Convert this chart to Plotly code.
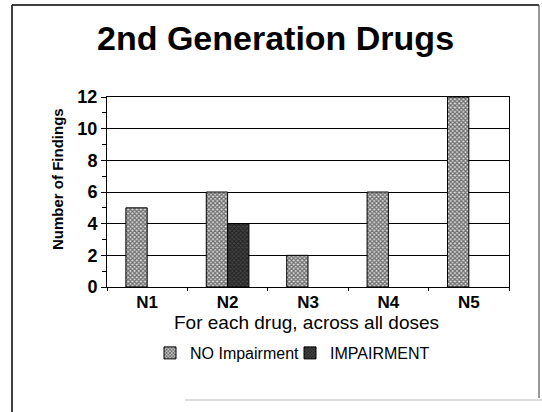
import plotly.graph_objects as go

categories = ["N1", "N2", "N3", "N4", "N5"]
no_impairment = [5, 6, 2, 6, 12]
impairment = [0, 4, 0, 0, 0]
y_ticks = [0, 2, 4, 6, 8, 10, 12]

W, H = 542, 412
L, R, T, B = 107, 33, 97, 125
pw, ph = W - L - R, H - T - B

def px(x):
    return (x - L) / pw

def py(y):
    return (H - B - y) / ph

FONT = "Liberation Sans, Arial, sans-serif"

fig = go.Figure()
fig.add_trace(go.Bar(
    x=categories, y=no_impairment, name="NO Impairment",
    marker=dict(color="white", line=dict(color="black", width=1),
                pattern=dict(shape="x", fgcolor="black", bgcolor="#ddd",
                             size=3, solidity=0.65)),
))
fig.add_trace(go.Bar(
    x=categories, y=[v if v else None for v in impairment], name="IMPAIRMENT",
    marker=dict(color="#222", line=dict(color="black", width=1),
                pattern=dict(shape="x", fgcolor="black", bgcolor="#444",
                             size=3, solidity=0.5)),
))

fig.update_layout(
    width=W, height=H,
    margin=dict(l=L, r=R, t=T, b=B, pad=0),
    paper_bgcolor="white", plot_bgcolor="white",
    barmode="group", bargap=0.47, bargroupgap=0,
    font=dict(family=FONT, color="black"),
    showlegend=True,
    legend=dict(orientation="h", x=px(150), xanchor="left",
                y=py(353), yanchor="middle",
                font=dict(size=16, family=FONT),
                itemwidth=30, traceorder="normal", entrywidth=95,
                bgcolor="rgba(0,0,0,0)"),
    xaxis=dict(
        type="category", tickson="boundaries", ticks="outside", ticklen=3,
        tickcolor="black", showline=True, linecolor="black", linewidth=1,
        mirror=True, showgrid=False,
        tickfont=dict(size=17, family=FONT, weight="bold"),
    ),
    yaxis=dict(
        range=[0, 12], tickvals=y_ticks, ticks="outside", ticklen=5,
        tickcolor="black", showline=True, linecolor="black", linewidth=1,
        mirror=True, showgrid=True, gridcolor="black", gridwidth=1,
        zeroline=False,
        tickfont=dict(size=18, family=FONT, weight="bold"),
        minor=dict(dtick=1, ticks="outside", ticklen=4, tickcolor="black",
                   showgrid=False),
    ),
    annotations=[
        dict(text="2nd Generation Drugs", xref="paper", yref="paper",
             x=px(275), y=py(38), xanchor="center", yanchor="middle",
             showarrow=False, font=dict(size=34, family=FONT, weight="bold")),
        dict(text="Number of Findings", xref="paper", yref="paper",
             x=px(57), y=py(179), xanchor="center", yanchor="middle",
             textangle=-90, showarrow=False,
             font=dict(size=15, family=FONT, weight="bold")),
        dict(text="For each drug, across all doses", xref="paper", yref="paper",
             x=px(306), y=py(322), xanchor="center", yanchor="middle",
             showarrow=False, font=dict(size=19, family=FONT)),
    ],
    shapes=[
        dict(type="line", xref="paper", yref="paper", x0=px(12), x1=px(539),
             y0=py(5), y1=py(5), line=dict(color="black", width=1.5)),
        dict(type="line", xref="paper", yref="paper", x0=px(12), x1=px(12),
             y0=py(5), y1=py(412), line=dict(color="black", width=1.5)),
        dict(type="line", xref="paper", yref="paper", x0=px(539), x1=px(539),
             y0=py(5), y1=py(398), line=dict(color="#333", width=1)),
        dict(type="line", xref="paper", yref="paper", x0=px(185), x1=px(542),
             y0=py(400), y1=py(400), line=dict(color="#bbb", width=1)),
    ],
)

fig.write_html(
    "out.html",
    config={"displayModeBar": False},
    post_script="document.body.style.margin='0';document.body.style.overflow='hidden';",
)
